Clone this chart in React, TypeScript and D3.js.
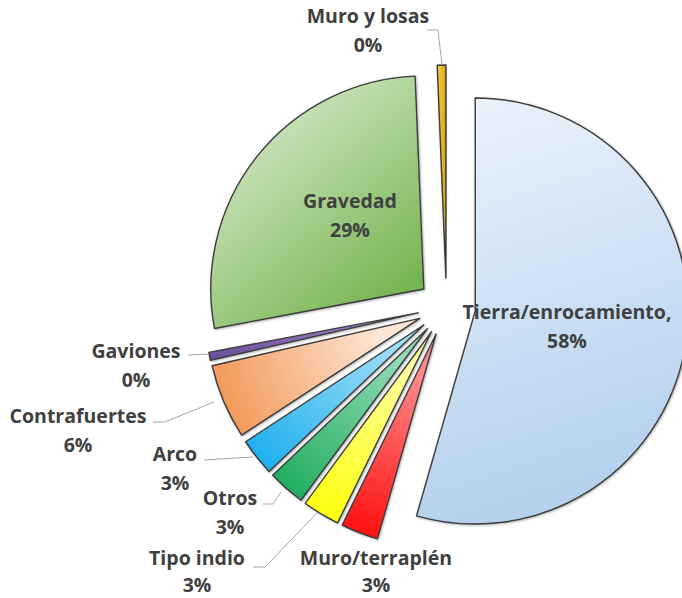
import React from "react";
import * as d3 from "d3";

// ---- data (visual shares) ----
const categories = [
  "Tierra/enrocamiento,",
  "Muro/terraplén",
  "Tipo indio",
  "Otros",
  "Arco",
  "Contrafuertes",
  "Gaviones",
  "Gravedad",
  "Muro y losas",
];
const values = [54.4, 2.83, 2.83, 2.83, 2.83, 5.66, 0.6, 27.3, 0.65];
const percentLabels = ["58%", "3%", "3%", "3%", "3%", "6%", "0%", "29%", "0%"];

// ---- styling / layout ----
const W = 682;
const H = 598;
const CX = 446.5;
const CY = 307;
const R = 213;
const EXPLODE = 29;

type Fill = { kind: "linear" | "radial"; stops: [string, string]; x1?: number; y1?: number; x2?: number; y2?: number };
const fills: Fill[] = [
  { kind: "linear", stops: ["#ecf3fb", "#b5d1ee"], x1: 0, y1: 0, x2: 0.2, y2: 1 },
  { kind: "radial", stops: ["#ff8a8a", "#ff1010"] },
  { kind: "radial", stops: ["#ffffa0", "#ffff10"] },
  { kind: "radial", stops: ["#8fdab2", "#22ad60"] },
  { kind: "radial", stops: ["#9cdcf6", "#1fb0ee"] },
  { kind: "radial", stops: ["#fde6d6", "#f39a5a"] },
  { kind: "radial", stops: ["#9a80c0", "#6e4e9c"] },
  { kind: "linear", stops: ["#e6f1de", "#76b551"], x1: 0, y1: 0, x2: 0.7, y2: 1 },
  { kind: "linear", stops: ["#f6cd3c", "#dba512"], x1: 0, y1: 0, x2: 1, y2: 0 },
];

// label anchor: centre x, first-line centre y, second-line gap
const labelPos: [number, number, number][] = [
  [567, 311, 28.5],
  [376, 557, 26.5],
  [197, 557, 26.5],
  [230, 497, 28.5],
  [175, 453, 28.5],
  [78, 415, 28.5],
  [136, 350, 28.5],
  [350, 200, 28.5],
  [368, 15, 28.5],
];
const leaderLines: (number[][] | null)[] = [
  null,
  null,
  [[253, 567], [265, 567], [317, 513]],
  [[263, 504], [273, 504], [281, 492]],
  [[204, 460], [253, 457]],
  [[153, 422], [165, 422], [214, 402]],
  [[188, 355], [209, 354]],
  null,
  [[427, 30], [438, 30], [442, 65]],
];

export default function App() {
  const pie = d3
    .pie<number>()
    .sort(null)
    .startAngle(0)
    .endAngle(2 * Math.PI)
    .value((d) => d);
  const arcs = pie(values);
  const arcGen = d3.arc<d3.PieArcDatum<number>>().innerRadius(0).outerRadius(R);

  return (
    <svg
      width={W}
      height={H}
      style={{ position: "absolute", left: 0, top: 0, background: "#fff" }}
      fontFamily="'Open Sans', sans-serif"
    >
      <defs>
        {fills.map((f, i) =>
          f.kind === "radial" ? (
            <radialGradient key={i} id={`g${i}`} gradientUnits="userSpaceOnUse" cx={0} cy={0} r={R}>
              <stop offset="0.2" stopColor={f.stops[0]} />
              <stop offset="1" stopColor={f.stops[1]} />
            </radialGradient>
          ) : (
            <linearGradient key={i} id={`g${i}`} x1={f.x1} y1={f.y1} x2={f.x2} y2={f.y2}>
              <stop offset="0" stopColor={f.stops[0]} />
              <stop offset="1" stopColor={f.stops[1]} />
            </linearGradient>
          )
        )}
        <filter id="sh" x="-10%" y="-10%" width="120%" height="120%">
          <feDropShadow dx="0.8" dy="0.8" stdDeviation="0.8" floodColor="#000" floodOpacity="0.35" />
        </filter>
      </defs>
      <g transform={`translate(${CX},${CY})`}>
        {arcs.map((a, i) => {
          const mid = (a.startAngle + a.endAngle) / 2;
          const dx = EXPLODE * Math.sin(mid);
          const dy = -EXPLODE * Math.cos(mid);
          return (
            <g key={i} transform={`translate(${dx},${dy})`}>
              <path
                d={arcGen(a) || ""}
                fill={`url(#g${i})`}
                stroke="#3c3c3c"
                strokeWidth={1.4}
                strokeLinejoin="round"
                filter="url(#sh)"
              />
            </g>
          );
        })}
      </g>
      {leaderLines.map((pts, i) =>
        pts ? (
          <polyline
            key={`l${i}`}
            points={pts.map((p) => p.join(",")).join(" ")}
            fill="none"
            stroke="#a6a6a6"
            strokeWidth={1}
          />
        ) : null
      )}
      {categories.map((c, i) => (
        <text
          key={`t${i}`}
          x={labelPos[i][0]}
          y={labelPos[i][1]}
          textAnchor="middle"
          dominantBaseline="central"
          fontSize={19.5}
          fontWeight={700}
          fill="#404040"
        >
          <tspan x={labelPos[i][0]}>{c}</tspan>
          <tspan x={labelPos[i][0]} dy={labelPos[i][2]}>
            {percentLabels[i]}
          </tspan>
        </text>
      ))}
    </svg>
  );
}
